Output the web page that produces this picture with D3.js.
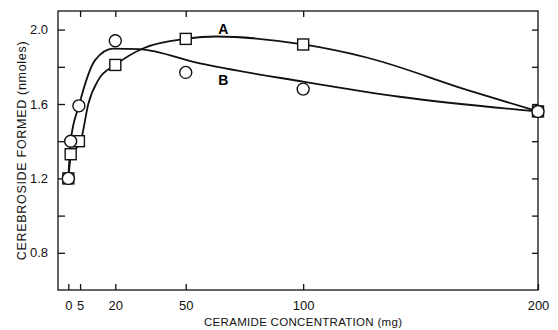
<!DOCTYPE html>
<html>
<head>
<meta charset="utf-8">
<script src="https://cdn.jsdelivr.net/npm/d3@7"></script>
<style>
  body { margin: 0; background: #fff; }
  svg { display: block; font-family: 'Liberation Sans', Arial, sans-serif; }
  .axis path { display: none; }
  .axis line { stroke: #111; stroke-width: 1.3; }
  .axis text { font-size: 13px; fill: #111; }
  .fit { fill: none; stroke: #111; stroke-width: 1.8; }
  .mark { fill: #fff; stroke: #111; stroke-width: 1.4; }
</style>
</head>
<body>
<svg id="chart" width="558" height="330"></svg>
<script>
// measured points
const xA = [0, 1, 4.5, 20, 50, 100, 200]
const yA = [1.20, 1.33, 1.40, 1.81, 1.95, 1.92, 1.56]
const xB = [0, 1, 4.5, 20, 50, 100, 200]
const yB = [1.20, 1.40, 1.59, 1.94, 1.77, 1.68, 1.56]

// hand drawn fitted curves
const curveAx = [0, 1, 5.5, 8.5, 12.8, 20, 32, 50, 63, 100, 127, 170, 200]
const curveAy = [1.20, 1.31, 1.41, 1.60, 1.73, 1.81, 1.90, 1.95, 1.963, 1.92, 1.85, 1.675, 1.56]
const curveBx = [0, 1, 4.5, 11.4, 19, 30, 56, 100, 141, 200]
const curveBy = [1.20, 1.40, 1.59, 1.836, 1.898, 1.895, 1.818, 1.72, 1.639, 1.56]

const xTicks = [0, 5, 20, 50, 100, 200]
const topTicks = [5, 20, 50, 100]
const yTicks = [0.8, 1.0, 1.2, 1.4, 1.6, 1.8, 2.0]
const yLabels = [0.8, 1.2, 1.6, 2.0]

const margin = { top: 11, left: 58, bottom: 40, right: 20 }
const svg = d3.select('#chart')
const width = +svg.attr('width') - margin.left - margin.right
const height = +svg.attr('height') - margin.top - margin.bottom

const x = d3.scaleLinear().domain([-4.4, 200]).range([0, width])
const y = d3.scaleLinear().domain([0.6, 2.1]).range([height, 0])

const g = svg.append('g').attr('transform', `translate(${margin.left},${margin.top})`)

// frame
g.append('rect').attr('width', width).attr('height', height)
  .attr('fill', 'none').attr('stroke', '#111').attr('stroke-width', 1.3)

g.append('g').classed('axis', true).attr('transform', `translate(0,${height})`)
  .call(d3.axisBottom(x).tickValues(xTicks).tickSize(-6).tickPadding(11).tickFormat(d3.format('d')))
g.append('g').classed('axis', true)
  .call(d3.axisTop(x).tickValues(topTicks).tickSize(-6).tickFormat(''))
g.append('g').classed('axis', true)
  .call(d3.axisLeft(y).tickValues(yTicks).tickSize(-7).tickPadding(10)
    .tickFormat(d => yLabels.some(v => Math.abs(v - d) < 1e-9) ? d3.format('.1f')(d) : ''))
g.append('g').classed('axis', true).attr('transform', `translate(${width},0)`)
  .call(d3.axisRight(y).tickValues(yTicks).tickSize(-6).tickFormat(''))

const line = d3.line().x(d => x(d[0])).y(d => y(d[1])).curve(d3.curveMonotoneX)
g.append('path').classed('fit', true).datum(d3.zip(curveAx, curveAy)).attr('d', line)
g.append('path').classed('fit', true).datum(d3.zip(curveBx, curveBy)).attr('d', line)

const s = 11
g.selectAll('rect.mark').data(d3.zip(xA, yA)).join('rect').classed('mark', true)
  .attr('x', d => x(d[0]) - s / 2).attr('y', d => y(d[1]) - s / 2)
  .attr('width', s).attr('height', s)
g.selectAll('circle.mark').data(d3.zip(xB, yB)).join('circle').classed('mark', true)
  .attr('cx', d => x(d[0])).attr('cy', d => y(d[1])).attr('r', 6)

g.append('text').attr('x', x(66)).attr('y', y(1.976))
  .attr('text-anchor', 'middle').attr('font-size', 14).attr('font-weight', 'bold').text('A')
g.append('text').attr('x', x(66)).attr('y', y(1.70))
  .attr('text-anchor', 'middle').attr('font-size', 14).attr('font-weight', 'bold').text('B')

svg.append('text').attr('x', margin.left + x(100)).attr('y', 326)
  .attr('text-anchor', 'middle').attr('font-size', 11.5).attr('letter-spacing', 0.3).attr('fill', '#111')
  .text('CERAMIDE CONCENTRATION (mg)')
svg.append('text').attr('transform', `translate(26,${margin.top + y(1.35)}) rotate(-90)`)
  .attr('text-anchor', 'middle').attr('font-size', 12.5).attr('letter-spacing', 0.7).attr('fill', '#111')
  .text('CEREBROSIDE FORMED (nmoles)')
</script>
</body>
</html>
